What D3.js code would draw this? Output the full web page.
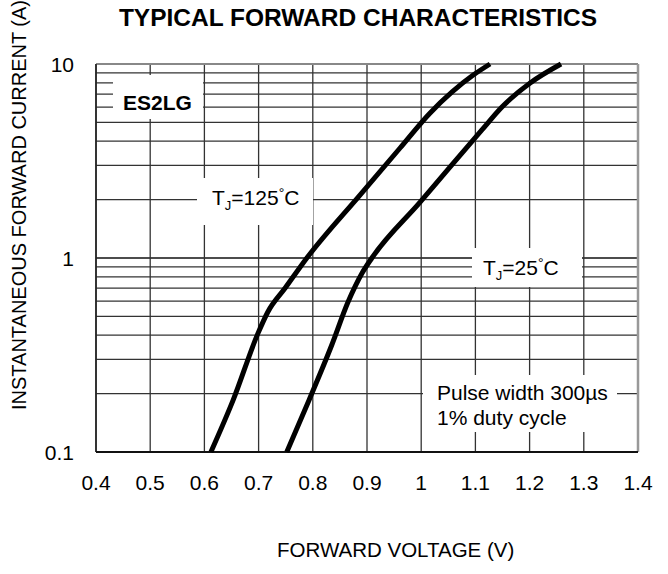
<!DOCTYPE html>
<html><head><meta charset="utf-8">
<script src="https://cdn.jsdelivr.net/npm/d3@7"></script>
<style>
body{margin:0;background:#fff;}
svg{display:block;font-family:"Liberation Sans",Arial,Helvetica,sans-serif;}
</style></head>
<body>
<svg id="chart" width="668" height="574"></svg>
<script>
// ---- data ----
const xTicks = [0.4,0.5,0.6,0.7,0.8,0.9,1.0,1.1,1.2,1.3,1.4];
const xTickLabels = ["0.4","0.5","0.6","0.7","0.8","0.9","1","1.1","1.2","1.3","1.4"];
const yTicks = [0.1,1,10];
const yTickLabels = ["0.1","1","10"];
const voltage125 = [0.612,0.653,0.699,0.717,0.749,0.789,0.887,0.961,1.016,1.057,1.096,1.127];
const current125 = [0.1,0.185,0.41,0.527,0.70,1.0,2.11,3.69,5.58,7.18,8.77,10];
const voltage25 = [0.752,0.793,0.835,0.865,0.891,0.909,0.998,1.053,1.112,1.149,1.201,1.258];
const current25 = [0.1,0.185,0.356,0.593,0.837,1.0,1.94,2.94,4.57,6.0,7.98,10];

const svg = d3.select("#chart");
const L=96, R=638, T=64, B=452;
const x = d3.scaleLinear().domain([0.4,1.4]).range([L,R]);
const y = d3.scaleLog().domain([0.1,10]).range([B,T]);

// grid
const hVals = [];
for (const d of [0.1,1]) for (let k=1;k<=9;k++) hVals.push(+(d*k).toFixed(3));
hVals.push(10);
const g = svg.append("g");
g.selectAll(".h").data(hVals).join("line")
  .attr("x1",L).attr("x2",R).attr("y1",d=>y(d)).attr("y2",d=>y(d))
  .attr("stroke",d=>(d===1)?"#111":"#333").attr("stroke-width",d=>(d===1)?1.6:1.3);
g.selectAll(".v").data(xTicks).join("line")
  .attr("x1",d=>x(d)).attr("x2",d=>x(d)).attr("y1",T).attr("y2",B)
  .attr("stroke","#333").attr("stroke-width",1.3);
// borders
g.append("line").attr("x1",L).attr("x2",R).attr("y1",T).attr("y2",T).attr("stroke","#888").attr("stroke-width",2);
g.append("line").attr("x1",R).attr("x2",R).attr("y1",T).attr("y2",B).attr("stroke","#999").attr("stroke-width",2.5);
g.append("line").attr("x1",L).attr("x2",L).attr("y1",T).attr("y2",B).attr("stroke","#222").attr("stroke-width",1.6);
g.append("line").attr("x1",L).attr("x2",R).attr("y1",B).attr("y2",B).attr("stroke","#111").attr("stroke-width",2);

// label boxes
const boxes = [[113,75,90,44],[197,178,116,47],[472,248,110,39],[423,375,194,57]];
svg.selectAll(".box").data(boxes).join("rect")
  .attr("x",d=>d[0]).attr("y",d=>d[1]).attr("width",d=>d[2]).attr("height",d=>d[3]).attr("fill","#fff");

// curves
const line = d3.line().x(d=>x(d[0])).y(d=>y(d[1])).curve(d3.curveMonotoneX);
[[voltage125,current125],[voltage25,current25]].forEach(([v,c])=>{
  svg.append("path").attr("d",line(v.map((vv,i)=>[vv,c[i]])))
    .attr("fill","none").attr("stroke","#000").attr("stroke-width",5)
    .attr("stroke-linejoin","round");
});

// tick labels
svg.selectAll(".xt").data(xTicks).join("text")
  .attr("x",d=>x(d)).attr("y",490).attr("text-anchor","middle")
  .attr("font-size",21).text((d,i)=>xTickLabels[i]);
svg.selectAll(".yt").data(yTicks).join("text")
  .attr("x",74).attr("y",d=>y(d)+7.5).attr("text-anchor","end")
  .attr("font-size",21).text((d,i)=>yTickLabels[i]);

// title & axis titles
svg.append("text").attr("x",358).attr("y",26).attr("text-anchor","middle")
  .attr("font-size",24.5).attr("font-weight","bold").text("TYPICAL FORWARD CHARACTERISTICS");
svg.append("text").attr("x",277).attr("y",557).attr("text-anchor","start")
  .attr("font-size",20.5).text("FORWARD VOLTAGE (V)");
svg.append("text").attr("transform","translate(26,205) rotate(-90)").attr("text-anchor","middle")
  .attr("font-size",20).text("INSTANTANEOUS FORWARD CURRENT (A)");

// annotations
svg.append("text").attr("x",123).attr("y",110).attr("font-size",21).attr("font-weight","bold").text("ES2LG");
function tj(xp,yp,val){
  const t = svg.append("text").attr("x",xp).attr("y",yp).attr("font-size",21);
  t.append("tspan").text("T");
  t.append("tspan").attr("font-size",13).attr("dy",5).text("J");
  t.append("tspan").attr("dy",-5).text("=" + val);
  t.append("tspan").attr("font-size",14).attr("dy",-7).text("°");
  t.append("tspan").attr("dy",7).text("C");
}
tj(212,205,"125");
tj(483,275,"25");
svg.append("text").attr("x",437).attr("y",400).attr("font-size",21).text("Pulse width 300µs");
svg.append("text").attr("x",437).attr("y",425).attr("font-size",21).text("1% duty cycle");
</script>
</body></html>
